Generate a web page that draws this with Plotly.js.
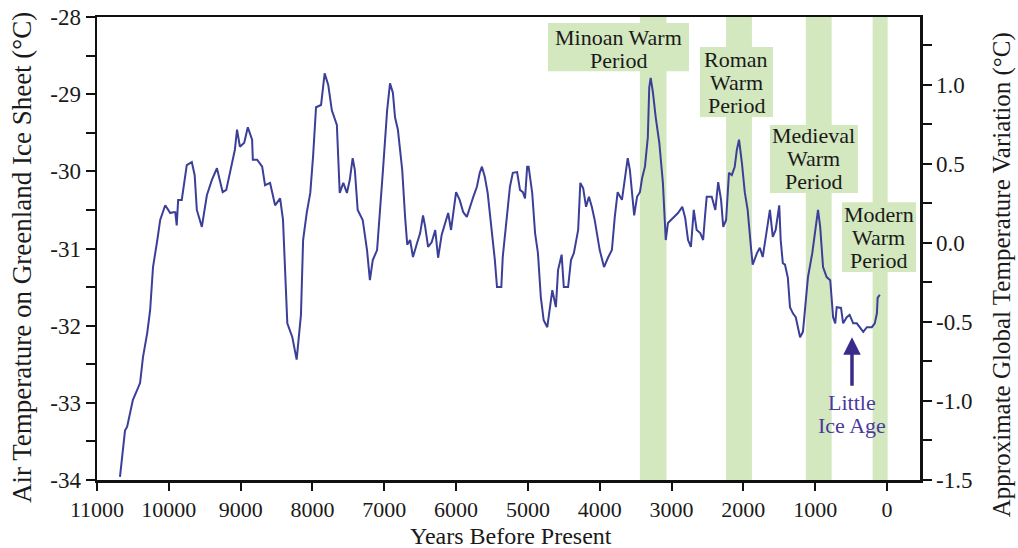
<!DOCTYPE html>
<html>
<head>
<meta charset="utf-8">
<script src="https://cdn.plot.ly/plotly-3.0.1.min.js"></script>
<style>html,body{margin:0;padding:0;background:#fff;}#chart{width:1018px;height:548px;}</style>
</head>
<body>
<div id="chart"></div>
<script>
// Years before present and Greenland air temperature (°C)
const years = [10680,10610,10580,10500,10430,10400,10360,10300,10260,10230,10220,10160,10120,10050,
9980,9940,9910,9890,9870,9820,9790,9750,9680,9640,9610,9540,9470,9400,9330,9290,9250,9200,9150,9080,9050,9010,
8950,8900,8840,8830,8770,8700,8660,8590,8520,8450,8410,8380,8350,8280,8220,8160,8130,8080,8030,
7990,7950,7880,7830,7780,7730,7660,7630,7620,7570,7520,7480,7440,7410,7370,7300,7240,7200,7160,7100,7060,7020,
6960,6920,6880,6850,6810,6750,6710,6680,6640,6600,6540,6500,6460,6430,6390,6340,6290,6250,6200,6150,6110,6070,6040,6000,
5950,5900,5850,5810,5760,5710,5670,5640,5600,5560,5500,5460,5430,5370,5350,5290,5250,5210,5150,5110,5070,5040,5010,
4990,4940,4900,4860,4820,4780,4730,4690,4660,4610,4580,4530,4500,4440,4400,4360,4300,4270,4230,4190,4150,4110,4070,4000,
3940,3880,3830,3790,3750,3690,3650,3610,3580,3550,3520,3480,3440,3410,3370,3330,3310,3290,3260,3220,3170,3120,3090,3080,3050,
2980,2910,2850,2810,2770,2730,2690,2650,2600,2560,2530,2510,2440,2390,2350,2310,2280,2240,2200,2160,2120,2090,2060,2020,
1980,1940,1890,1870,1810,1770,1730,1670,1630,1590,1550,1500,1480,1450,1420,1380,1350,1310,1270,1240,1210,1170,1140,1100,1040,1000,
970,960,930,890,840,790,750,720,700,640,610,560,520,470,420,380,330,280,210,170,140,130,100];
const airTemp = [-33.96,-33.36,-33.31,-32.96,-32.81,-32.74,-32.41,-32.09,-31.80,-31.41,-31.24,-30.89,-30.63,-30.44,
-30.54,-30.53,-30.53,-30.70,-30.37,-30.37,-30.18,-29.92,-29.88,-30.05,-30.50,-30.72,-30.31,-30.11,-29.96,-30.11,-30.27,-30.24,-30.01,-29.72,-29.46,-29.68,
-29.63,-29.43,-29.59,-29.85,-29.85,-29.94,-30.18,-30.15,-30.44,-30.35,-30.63,-31.32,-31.97,-32.15,-32.44,-31.86,-30.89,-30.54,-30.28,
-29.79,-29.17,-29.14,-28.73,-28.88,-29.21,-29.40,-30.11,-30.28,-30.15,-30.28,-30.11,-29.83,-29.98,-30.50,-30.63,-31.02,-31.41,-31.15,-31.02,-30.44,-30.01,
-29.21,-28.86,-28.98,-29.30,-29.46,-29.98,-30.59,-30.95,-30.89,-31.11,-30.92,-30.80,-30.57,-30.72,-30.98,-30.92,-30.76,-31.12,-30.82,-30.67,-30.54,-30.76,-30.54,-30.27,
-30.37,-30.53,-30.59,-30.46,-30.33,-30.20,-30.02,-29.94,-30.07,-30.28,-30.80,-31.15,-31.50,-31.50,-31.11,-30.54,-30.20,-30.02,-30.01,-30.24,-30.27,-30.35,-29.94,
-29.94,-30.28,-30.80,-31.06,-31.63,-31.93,-32.02,-31.73,-31.54,-31.76,-31.28,-31.08,-31.50,-31.50,-31.15,-31.06,-30.76,-30.15,-30.22,-30.46,-30.33,-30.46,-30.63,-31.02,
-31.24,-31.11,-31.02,-30.59,-30.27,-30.37,-30.11,-29.83,-29.98,-30.28,-30.57,-30.33,-30.27,-30.09,-29.94,-29.56,-28.91,-28.79,-28.97,-29.30,-29.63,-30.15,-30.63,-30.89,-30.67,
-30.60,-30.54,-30.46,-30.60,-30.89,-30.98,-30.50,-30.76,-30.80,-30.89,-30.54,-30.33,-30.33,-30.50,-30.14,-30.37,-30.72,-30.63,-30.02,-30.05,-29.94,-29.72,-29.59,-29.89,
-30.27,-30.50,-31.02,-31.21,-31.06,-30.99,-31.11,-30.76,-30.50,-30.85,-30.76,-30.44,-30.89,-31.19,-31.21,-31.38,-31.76,-31.84,-31.89,-32.02,-32.15,-32.08,-31.76,-31.37,-31.06,-30.80,
-30.54,-30.50,-30.72,-31.24,-31.37,-31.41,-31.89,-31.97,-31.76,-31.77,-31.97,-31.89,-31.86,-31.97,-31.97,-32.02,-32.08,-32.02,-32.02,-31.97,-31.84,-31.64,-31.60];

// Warm periods (years before present)
const periodLines = [["Minoan Warm", "Period"], ["Roman", "Warm", "Period"], ["Medieval", "Warm", "Period"], ["Modern", "Warm", "Period"]];
const periodStart = [3440, 2240, 1130, 200];
const periodEnd = [3070, 1880, 770, -10];

const xTicks = [11000,10000,9000,8000,7000,6000,5000,4000,3000,2000,1000,0];
const leftTicks = [-34,-33,-32,-31,-30,-29,-28];
const rightTicks = [-1.5,-1.0,-0.5,0.0,0.5,1.0];

const xTitle = "Years Before Present";
const leftTitle = "Air Temperature on Greenland Ice Sheet (°C)";
const rightTitle = "Approximate Global Temperature Variation (°C)";

const serif = "Liberation Serif, Times New Roman, serif";
const green = "#d3e8bf";

// label box placement (layout, in x years / paper fraction)
const boxX0 = [4720, 2604, 1629, 627];
const boxX1 = [2757, 1587, 404, -404];
const boxY0 = [0.883, 0.784, 0.620, 0.449];
const boxY1 = [0.987, 0.935, 0.767, 0.600];
const boxLineY = [[0.9568, 0.9071], [0.9092, 0.8595, 0.8098], [0.7441, 0.6944, 0.6447], [0.5734, 0.5238, 0.4741]];

const shapes = periodStart.map((s, i) => ({
  type: "rect", xref: "x", yref: "paper", x0: s, x1: periodEnd[i], y0: 0, y1: 1,
  fillcolor: green, line: {width: 0}, layer: "below"
}));
boxX0.forEach((x0, i) => shapes.push({
  type: "rect", xref: "x", yref: "paper", x0: x0, x1: boxX1[i], y0: boxY0[i], y1: boxY1[i],
  fillcolor: green, line: {width: 0}, layer: "below"
}));

const annotations = [];
periodLines.forEach((lines, i) => {
  const xc = (boxX0[i] + boxX1[i]) / 2;
  lines.forEach((t, j) => annotations.push({
    text: t, xref: "x", yref: "paper", x: xc, y: boxLineY[i][j],
    showarrow: false, font: {family: serif, size: 22, color: "#1a1a1a"},
    xanchor: "center", yanchor: "middle"
  }));
});
["Little", "Ice Age"].forEach((t, j) => annotations.push({
  text: t, xref: "x", yref: "paper", x: 487, y: [0.1674, 0.1177][j],
  showarrow: false, font: {family: serif, size: 22, color: "#4a3a9c"}, xanchor: "center", yanchor: "middle"
}));
annotations.push({
  text: "", xref: "x", yref: "y", x: 487, y: -32.15, ax: 0, ay: 50,
  showarrow: true, arrowhead: 2, arrowsize: 1, arrowwidth: 3.5, arrowcolor: "#3b2a8a"
});
// axis titles
annotations.push({
  text: xTitle, xref: "paper", yref: "paper", x: 0.503, y: -0.1215,
  showarrow: false, font: {family: serif, size: 24, color: "#1a1a1a"}, xanchor: "center", yanchor: "middle"
});
annotations.push({
  text: leftTitle, xref: "paper", yref: "paper", x: -0.092, y: 0.48, textangle: -90,
  showarrow: false, font: {family: serif, size: 27, color: "#1a1a1a"}, xanchor: "center", yanchor: "middle"
});
annotations.push({
  text: rightTitle, xref: "paper", yref: "paper", x: 1.1, y: 0.443, textangle: -90,
  showarrow: false, font: {family: serif, size: 25, color: "#1a1a1a"}, xanchor: "center", yanchor: "middle"
});

const traces = [
  {x: years, y: airTemp, type: "scatter", mode: "lines", line: {color: "#3b3f98", width: 2}, hoverinfo: "x+y"},
  {x: [], y: [], yaxis: "y2", type: "scatter", mode: "lines", showlegend: false, hoverinfo: "skip"}
];

const layout = {
  width: 1018, height: 548,
  margin: {l: 97, r: 98, t: 17, b: 68},
  paper_bgcolor: "#fff", plot_bgcolor: "#fff",
  showlegend: false,
  font: {family: serif, size: 23, color: "#1a1a1a"},
  xaxis: {
    range: [11000, -460], tickvals: xTicks, ticktext: xTicks.map(String),
    ticks: "outside", ticklen: 8, tickwidth: 2, tickcolor: "#111",
    showline: true, linecolor: "#111", linewidth: 2.5, mirror: true,
    showgrid: false, zeroline: false,
    tickfont: {family: serif, size: 22}
  },
  yaxis: {
    range: [-34, -28], tickvals: leftTicks, ticktext: leftTicks.map(String),
    ticks: "outside", ticklen: 9, tickwidth: 2, tickcolor: "#111",
    minor: {dtick: 0.5, ticks: "outside", ticklen: 9, tickwidth: 2, tickcolor: "#111"},
    showline: true, linecolor: "#111", linewidth: 2.5,
    showgrid: false, zeroline: false,
    tickfont: {family: serif, size: 23}
  },
  yaxis2: {
    overlaying: "y", side: "right", range: [-1.5, 1.43],
    tickvals: rightTicks, ticktext: rightTicks.map(v => v.toFixed(1)),
    ticks: "outside", ticklen: 9, tickwidth: 2, tickcolor: "#111",
    minor: {dtick: 0.25, ticks: "outside", ticklen: 9, tickwidth: 2, tickcolor: "#111"},
    showline: true, linecolor: "#111", linewidth: 2.5,
    showgrid: false, zeroline: false,
    tickfont: {family: serif, size: 23}
  },
  shapes: shapes,
  annotations: annotations
};

Plotly.newPlot("chart", traces, layout, {displayModeBar: false, staticPlot: true});
</script>
</body>
</html>
